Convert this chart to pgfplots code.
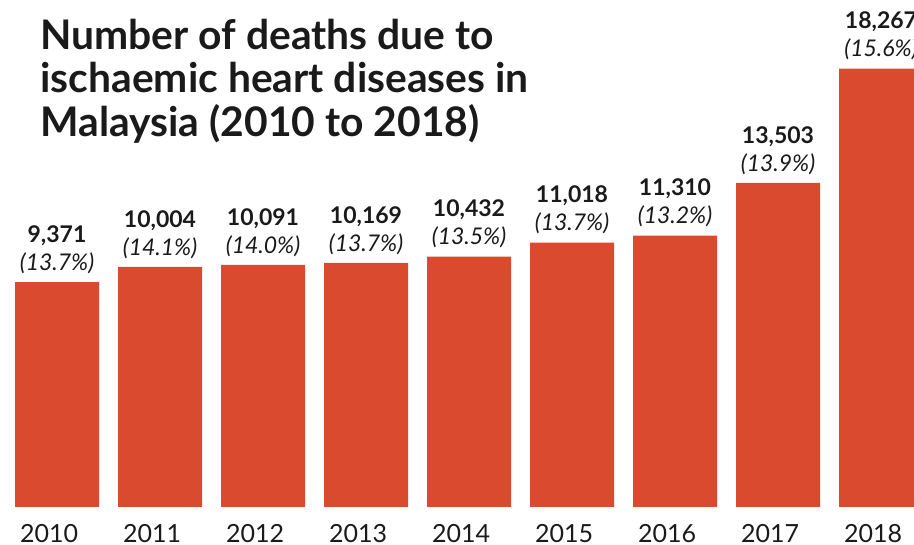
\documentclass[border=0pt]{standalone}
\usepackage{fontspec}
\setmainfont{Lato}
\usepackage{pgfplots}
\usepackage{pgfplotstable}
\pgfplotsset{compat=1.18}
\definecolor{barred}{RGB}{217,74,46}
\definecolor{txt}{RGB}{26,26,26}
\pgfplotstableread{
x y pct
0 9371 13.7
1 10004 14.1
2 10091 14.0
3 10169 13.7
4 10432 13.5
5 11018 13.7
6 11310 13.2
7 13503 13.9
8 18267 15.6
}\deaths
\begin{document}
\begin{tikzpicture}
\begin{axis}[
  at={(0pt,0pt)}, anchor=south west,
  scale only axis,
  width=457pt, height=253.5pt,
  xmin=-0.5534, xmax=8.3204,
  ymin=0, ymax=21125,
  axis line style={draw=none},
  ytick=\empty,
  xtick=data,
  xticklabels={2010,2011,2012,2013,2014,2015,2016,2017,2018},
  major tick length=0pt,
  x tick label style={anchor=base, inner sep=0pt, yshift=-17.5pt, xshift=-4pt,
     font=\fontsize{12.5}{13}\selectfont, text=txt},
  /pgf/number format/assume math mode=true,
]
\addplot[ybar, fill=barred, draw=none, bar width=42pt,
  visualization depends on={\thisrow{pct} \as \pct},
  nodes near coords={\textbf{\pgfmathprintnumber[1000 sep={,}]{\pgfplotspointmeta}}\\\textit{(\pgfmathprintnumber[fixed,fixed zerofill,precision=1]{\pct}\%)}},
  every node near coord/.append style={align=center, anchor=south, inner sep=0pt,
     yshift=4pt, text=txt, font=\fontsize{11.5}{14}\selectfont},
] table[x=x, y=y] {\deaths};
\end{axis}
\node[anchor=base west, inner sep=0pt, text=txt, font=\fontsize{20.4}{22}\selectfont\bfseries] at (20pt,228.5pt) {Number of deaths due to};
\node[anchor=base west, inner sep=0pt, text=txt, font=\fontsize{20.4}{22}\selectfont\bfseries] at (20pt,207pt) {ischaemic heart diseases in};
\node[anchor=base west, inner sep=0pt, text=txt, font=\fontsize{20.4}{22}\selectfont\bfseries] at (20pt,185pt) {Malaysia (2010 to 2018)};
\pgfresetboundingbox
\useasboundingbox (0pt,-19pt) rectangle (457pt,253.5pt);
\end{tikzpicture}
\end{document}
